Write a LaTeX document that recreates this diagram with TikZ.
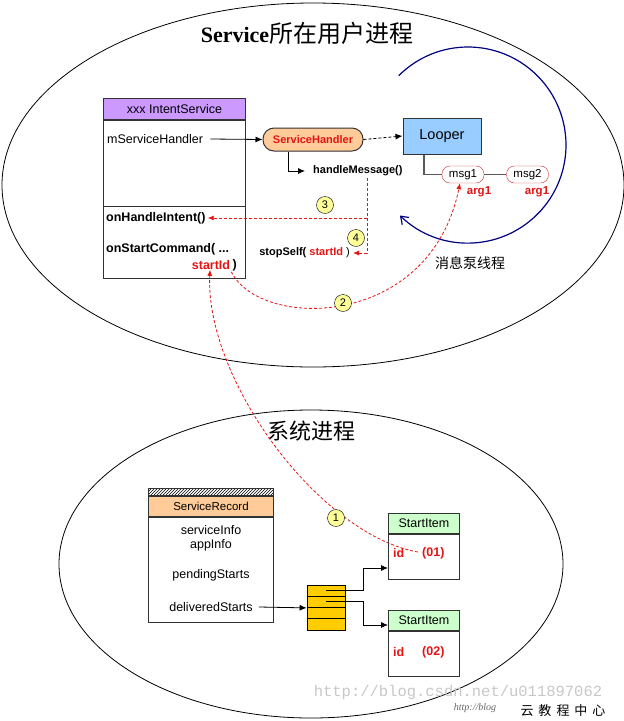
\documentclass[tikz,border=0pt]{standalone}
\usepackage{fontspec}
\setmainfont{Liberation Sans}
\newfontfamily\cjk{Noto Sans CJK SC}
\newfontfamily\tms{Liberation Serif}
\newfontfamily\mono{Liberation Mono}
\usetikzlibrary{arrows.meta,patterns}
\definecolor{purp}{RGB}{204,153,255}
\definecolor{peach}{RGB}{255,204,153}
\definecolor{skyb}{RGB}{153,204,255}
\definecolor{mint}{RGB}{204,255,204}
\definecolor{gold}{RGB}{255,204,0}
\definecolor{pale}{RGB}{255,255,153}
\definecolor{rd}{RGB}{228,20,20}
\definecolor{navyb}{RGB}{0,0,128}
\definecolor{msgred}{RGB}{200,50,50}
\newcommand{\fsz}[1]{\fontsize{#1}{#1}\selectfont}

\begin{document}
\begin{tikzpicture}[x=1pt,y=-1pt,
		frame/.style={draw=black!80,line width=1pt,inner sep=0pt},
		txt/.style={inner sep=0pt,font=\fsz{12.5}},
		btxt/.style={inner sep=0pt,font=\fsz{12.5}\bfseries},
		rtxt/.style={inner sep=0pt,font=\fsz{12.5}\bfseries,text=rd},
		num/.style={circle,draw,fill=pale,inner sep=0pt,minimum size=17,font=\fsz{11}},
		msgbox/.style={draw=msgred,rounded corners=8,fill=white,minimum width=42,minimum height=17,inner sep=0pt,font=\fsz{11.5}},
		reddash/.style={draw=rd,dash pattern=on 3pt off 2pt,line width=0.8pt,-{Latex[length=6pt,width=5pt]}},
		arr/.style={line width=0.8pt,-{Latex[length=7pt,width=6pt]}}]
			\useasboundingbox (0,0) rectangle (624,721);
			\draw[line width=0.8pt] (313,185) ellipse [x radius=311,y radius=182];
			\draw[line width=0.8pt] (311,564) ellipse [x radius=252,y radius=154];
			\node[inner sep=0pt] (ut) at (307,33) {\tms\fsz{22}\bfseries Service\cjk\mdseries\fsz{24}所在用户进程};
			\node[inner sep=0pt,font=\cjk\fsz{22}] (lt) at (311,431) {系统进程};
			\coordinate (lc) at (468,145);
			\draw[navyb,line width=1.2pt,-{Straight Barb[length=7pt,width=10pt]}] ([shift={(-135:98)}]lc) arc[start angle=-135,end angle=134,radius=98];
			\node[inner sep=0pt,font=\cjk\fsz{14}] (mq) at (470,263) {消息泵线程};
			\node[frame,fill=purp,minimum width=142,minimum height=21,anchor=north west,font=\fsz{12.5}] (ish) at (103,98) {xxx IntentService};
			\node[frame,minimum width=142,minimum height=158,anchor=north] (isb) at (ish.south) {};
			\draw[draw=black!80,line width=1pt] (103,206) -- (245,206);
			\node[txt,anchor=west] (msh) at (107,139) {mServiceHandler};
			\node[btxt,anchor=west] (ohi) at (106,218) {onHandleIntent()};
			\node[btxt,anchor=west] (osc) at (106,249) {onStartCommand( ...};
			\node[rtxt] (sid) at (211,265) {startId};
			\node[btxt,anchor=west] (sidp) at (sid.east) {\,)};
			\node[draw=black!80,line width=1pt,fill=peach,rounded corners=11,minimum width=100,minimum height=23,inner sep=0pt,text=rd,font=\fsz{11}\bfseries] (sh) at (313,139.5) {ServiceHandler};
			\node[draw=black!80,line width=1pt,fill=skyb,minimum width=78,minimum height=36,font=\fsz{14.5}] (lp) at (442,136) {Looper};
			\node[inner sep=0pt,font=\fsz{11}\bfseries,anchor=west] (hm) at (313,171) {handleMessage()};
			\node[msgbox] (m1) at (463,174.5) {msg1};
			\node[msgbox] (m2) at (527.5,174.5) {msg2};
			\node[rtxt,font=\fsz{11.5}\bfseries] (a1) at (479,192) {arg1};
			\node[rtxt,font=\fsz{11.5}\bfseries] (a2) at (537,192) {arg1};
			\node[inner sep=0pt,font=\fsz{11}\bfseries,anchor=east] (ss) at (350,253) {stopSelf( \textcolor{rd}{startId} {\mdseries)}};
			\draw[arr] ([xshift=7]msh.east) -- (sh.west);
			\draw[arr,dash pattern=on 3pt off 2pt] (sh.east) -- (lp.west);
			\draw[arr] ([xshift=-25]sh.south) |- ([xshift=-8]hm.west);
			\draw[black!65,line width=1.5pt] ([xshift=-18]lp.south) |- (m1.west);
			\draw[black!65,line width=1.5pt] (m1) -- (m2);
			\coordinate (hb) at (367,178);
			\draw[reddash] (hb) |- ([xshift=3]ss.east);
			\draw[reddash] (hb |- ohi.east) -- ([xshift=2]ohi.east);
			\node[draw=black!80,line width=1pt,pattern=north east lines,minimum width=125,minimum height=7,anchor=north west,inner sep=0pt] (hat) at (148,488) {};
			\node[frame,fill=peach,minimum width=125,minimum height=20,anchor=north,font=\fsz{11.5}] (srh) at (hat.south) {ServiceRecord};
			\node[frame,minimum width=125,minimum height=105,anchor=north] (srb) at (srh.south) {};
			\node[txt] (sin) at (211,530) {serviceInfo};
			\node[txt] (ain) at (211,545) {appInfo};
			\node[txt] (pst) at (211,575) {pendingStarts};
			\node[txt] (dst) at (211,607) {deliveredStarts};
			\foreach \i in {0,...,3}
				\node[draw,line width=0.8pt,fill=gold,minimum width=38,minimum height=11.25,inner sep=0pt] (c\i) at (326,590.6+11.25*\i) {};
			\node[frame,fill=mint,minimum width=71,minimum height=20,anchor=north west,font=\fsz{12.5}] (si1h) at (388,513) {StartItem};
			\node[frame,minimum width=71,minimum height=45,anchor=north] (si1b) at (si1h.south) {};
			\node[frame,fill=mint,minimum width=71,minimum height=20,anchor=north west,font=\fsz{12.5}] (si2h) at (388,610) {StartItem};
			\node[frame,minimum width=71,minimum height=45,anchor=north] (si2b) at (si2h.south) {};
			\draw[arr] ([xshift=6]dst.east) -- (c1.south west);
			\draw[arr] (c0.center) -- ++(37,0) |- ([yshift=-11]si1b.west);
			\draw[arr] (c1.center) -- ++(37,0) |- ([yshift=-4.5]si2h.west);
			\coordinate (idc) at (418,552);
			\draw[reddash] ([shift={(1,2)}]sid.south east) .. controls (260,330) and (430,330) .. ([xshift=-3]m1.south);
			\draw[reddash] (idc) .. controls (320,535) and (205,380) .. ([xshift=-1]sid.south);
			\node[rtxt,anchor=west] (id1) at (393,553) {id};
			\node[rtxt,anchor=west] (v1) at (422,553) {(01)};
			\node[rtxt,anchor=west] (id2) at (393,652) {id};
			\node[rtxt,anchor=west] (v2) at (422,652) {(02)};
			\node[num] (n3) at (325,205) {3};
			\node[num] (n4) at (356,238) {4};
			\node[num] (n2) at (343,303) {2};
			\node[num] (n1) at (336,518) {1};
			\node[inner sep=0pt,font=\mono\fsz{15.5},text=black!22] (wm) at (458,692) {http://blog.csdn.net/u011897062};
			\node[inner sep=0pt,font=\tms\itshape\fsz{10},text=black!60] (wm2) at (475,708) {http://blog};
			\node[inner sep=0pt,font=\cjk\fsz{13}] (yun) at (563,711) {云\hspace{5pt}教\hspace{5pt}程\hspace{5pt}中\hspace{5pt}心};
		\end{tikzpicture}
\end{document}
